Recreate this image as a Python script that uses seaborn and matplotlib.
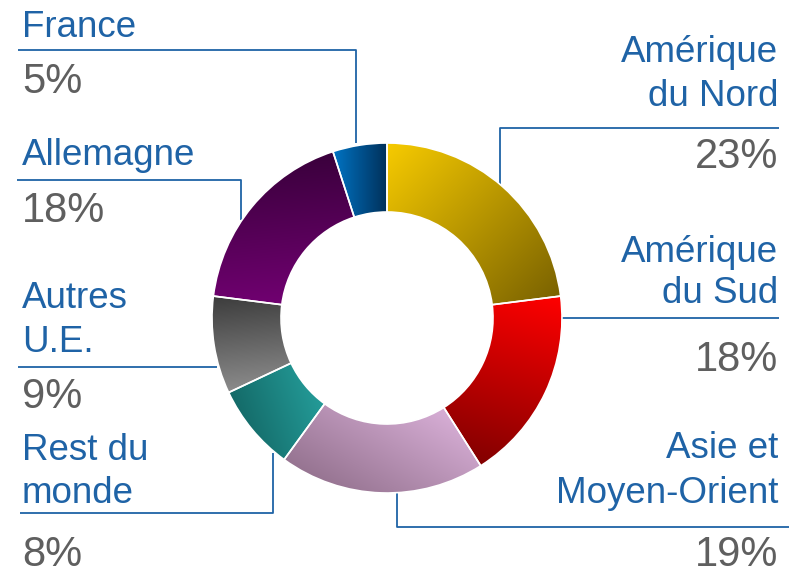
import numpy as np
import matplotlib
matplotlib.use("Agg")
import matplotlib.pyplot as plt
from matplotlib.colors import to_rgb
import seaborn as sns

# données
regions = ["Amérique du Nord", "Amérique du Sud", "Asie et Moyen-Orient",
           "Rest du monde", "Autres U.E.", "Allemagne", "France"]
label_lines = [["Amérique", "du Nord"], ["Amérique", "du Sud"],
               ["Asie et", "Moyen-Orient"], ["Rest du", "monde"],
               ["Autres", "U.E."], ["Allemagne"], ["France"]]
shares = [23, 18, 19, 8, 9, 18, 5]

# dégradés (couleur départ, couleur arrivée, direction)
grad_start = ["#F7CB00", "#FF0000", "#F0C4F0", "#34CECA", "#3C3C3C", "#3A003C", "#0074C4"]
grad_end = ["#7A6200", "#820000", "#957390", "#146A68", "#8C8C8C", "#7A007A", "#00305A"]
grad_dir = [(1, -1), (-0.3, -1), (-0.6, -1), (-1, -0.35), (0.1, -1), (0.1, -1), (1, 0)]

BLUE, GREY = "#1F63A6", "#5F5F5F"
W, H = 792, 571
CX, CY, R, RIN = 387, 318, 175, 106

def py(y):
    return H - y

sns.set_style("white")
plt.rcParams["font.family"] = ["Liberation Sans", "DejaVu Sans"]

fig = plt.figure(figsize=(W / 100, H / 100), dpi=100)
ax = fig.add_axes([0, 0, 1, 1])

wedges, _ = ax.pie(shares, center=(CX, py(CY)), radius=R, startangle=90,
                   counterclock=False, colors=grad_start,
                   wedgeprops=dict(width=R - RIN, edgecolor="none"))

# remplissage en dégradé, découpé par chaque secteur
n = 400
xs = np.linspace(CX - R, CX + R, n)
ys = np.linspace(py(CY) - R, py(CY) + R, n)
X, Y = np.meshgrid(xs, ys)
for w, c0, c1, d in zip(wedges, grad_start, grad_end, grad_dir):
    d = np.array(d, float); d /= np.linalg.norm(d)
    verts = w.get_path().vertices
    proj = verts @ d
    t = np.clip(((X * d[0] + Y * d[1]) - proj.min()) / (proj.max() - proj.min()), 0, 1)
    img = (1 - t)[..., None] * np.array(to_rgb(c0)) + t[..., None] * np.array(to_rgb(c1))
    im = ax.imshow(img, extent=[CX - R, CX + R, py(CY) - R, py(CY) + R],
                   origin="lower", interpolation="bilinear", zorder=2)
    im.set_clip_path(w)
for w in wedges:
    w.set_facecolor("none"); w.set_edgecolor("white"); w.set_linewidth(1.2); w.set_zorder(3)

# pie() et imshow() changent les limites : on les remet en pixels
ax.set_xlim(0, W); ax.set_ylim(0, H); ax.set_aspect("equal"); ax.axis("off")

# traits de rappel (pixels)
leaders = [
    [(500, 184), (500, 128), (779, 128)],
    [(561, 318), (779, 318)],
    [(397, 493), (397, 527), (789, 527)],
    [(273, 453), (273, 513), (20, 513)],
    [(217, 367), (18, 367)],
    [(241, 220), (241, 180), (17, 180)],
    [(356, 143), (356, 50), (18, 50)],
]
for pts in leaders:
    xs_, ys_ = zip(*pts)
    ax.plot(xs_, [py(v) for v in ys_], color=BLUE, lw=1.3, zorder=1,
            solid_capstyle="butt")

# étiquettes : x, ha, lignes de base du nom, ligne de base du %
layout = [
    (778, "right", [62, 106], 168),
    (778, "right", [262, 303], 371),
    (778, "right", [458, 503], 566),
    (22, "left", [460, 503], 566),
    (22, "left", [308, 352], 408),
    (22, "left", [165], 222),
    (22, "left", [37], 93),
]
for lines, s, (x, ha, bases, pb) in zip(label_lines, shares, layout):
    for txt, b in zip(lines, bases):
        ax.text(x, py(b), txt, ha=ha, va="baseline", color=BLUE, fontsize=26.5)
    ax.text(x, py(pb), f"{s}%", ha=ha, va="baseline", color=GREY, fontsize=30)

fig.savefig("out.png", dpi=100)
